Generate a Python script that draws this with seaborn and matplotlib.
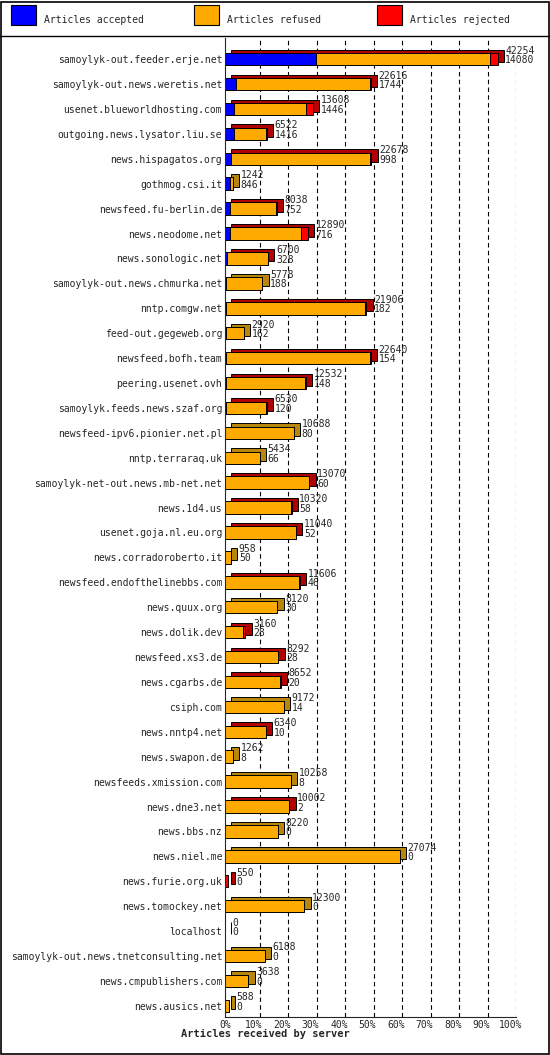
import matplotlib
matplotlib.use("Agg")
import matplotlib.pyplot as plt
import seaborn as sns
import numpy as np
from matplotlib.patches import Rectangle
from matplotlib.lines import Line2D

servers = ["samoylyk-out.feeder.erje.net","samoylyk-out.news.weretis.net","usenet.blueworldhosting.com",
"outgoing.news.lysator.liu.se","news.hispagatos.org","gothmog.csi.it","newsfeed.fu-berlin.de","news.neodome.net",
"news.sonologic.net","samoylyk-out.news.chmurka.net","nntp.comgw.net","feed-out.gegeweb.org","newsfeed.bofh.team",
"peering.usenet.ovh","samoylyk.feeds.news.szaf.org","newsfeed-ipv6.pionier.net.pl","nntp.terraraq.uk",
"samoylyk-net-out.news.mb-net.net","news.1d4.us","usenet.goja.nl.eu.org","news.corradoroberto.it",
"newsfeed.endofthelinebbs.com","news.quux.org","news.dolik.dev","newsfeed.xs3.de","news.cgarbs.de","csiph.com",
"news.nntp4.net","news.swapon.de","newsfeeds.xmission.com","news.dne3.net","news.bbs.nz","news.niel.me",
"news.furie.org.uk","news.tomockey.net","localhost","samoylyk-out.news.tnetconsulting.net","news.cmpublishers.com",
"news.ausics.net"]
offered = [42254,22616,13608,6522,22678,1242,8038,12890,6700,5778,21906,2920,22640,12532,6530,10688,5434,13070,
10320,11040,958,11606,8120,3160,8292,8652,9172,6340,1262,10258,10002,8220,27074,550,12300,0,6188,3638,588]
accepted = [14080,1744,1446,1416,998,846,752,716,328,188,182,162,154,148,120,80,66,60,58,52,50,46,30,28,28,20,14,
10,8,8,2,0,0,0,0,0,0,0,0]
rejected = [1100,150,1000,100,200,0,100,1100,50,0,150,0,150,100,100,0,0,100,100,100,0,100,0,400,50,50,0,50,0,0,
100,0,0,550,0,0,0,0,0]
legend_labels = ["Articles accepted","Articles refused","Articles rejected"]
xlabel = "Articles received by server"
pct_ticks = [0,10,20,30,40,50,60,70,80,90,100]

sns.set_style("white")
plt.rcParams['font.family'] = ['DejaVu Sans Mono']
plt.rcParams['font.size'] = 7

off = np.array(offered, float); acc = np.array(accepted, float); rej = np.array(rejected, float)
ref = np.clip(off - acc - rej, 0, None)
xmax = off.max() * 272 / 260
y = np.arange(len(servers))

fig = plt.figure(figsize=(5.5, 10.55), dpi=100)
ax = fig.add_axes([0.409, 0.036, 0.53, 0.928])
dx = xmax * 0.022
h = 0.5
last_col = []
for a, r, j in zip(acc, ref, rej):
    last_col.append("#b00000" if j > 0 else ("#b8860b" if r > 0 else "#0000b0"))
ax.barh(y - 0.13, off, left=dx, height=h, color=last_col, edgecolor="black", linewidth=0.7)
ax.barh(y, acc, height=h, color="#0000ff", edgecolor="black", linewidth=0.7)
ax.barh(y, ref, left=acc, height=h, color="#ffaa00", edgecolor="black", linewidth=0.7)
ax.barh(y, rej, left=acc + ref, height=h, color="#ff0000", edgecolor="black", linewidth=0.7)
for yi, o, a in zip(y, off, acc):
    ax.text(o + dx + xmax * 0.005, yi - 0.15, f"{int(o)}\n{int(a)}", va="center", ha="left",
            fontsize=7, linespacing=0.95)
for t in pct_ticks[1:]:
    ax.axvline(t / 100 * xmax + dx, color="black", ls=(0, (4, 3)), lw=0.8, zorder=0)
ax.set_xlim(0, xmax + dx)
ax.set_ylim(len(servers) - 0.55, -0.85)
ax.set_yticks(y)
ax.set_yticklabels(servers)
ax.set_xticks([t / 100 * xmax for t in pct_ticks])
ax.set_xticklabels([f"{t}%" for t in pct_ticks])
ax.tick_params(length=0, pad=2)
ax.set_xlabel(xlabel, fontweight="bold", fontsize=7.5, loc="left", labelpad=1)
ax.xaxis.set_label_coords(-0.15, -0.012)
for s in ["top", "right"]:
    ax.spines[s].set_visible(False)
ax.spines["left"].set_linewidth(0.8)
ax.spines["bottom"].set_linewidth(0.8)

fig.add_artist(Rectangle((0.002, 0.001), 0.996, 0.997, transform=fig.transFigure, fill=False, lw=1.2, ec="black"))
fig.add_artist(Line2D([0, 1], [0.966, 0.966], transform=fig.transFigure, color="black", lw=1))
cols = ["#0000ff", "#ffaa00", "#ff0000"]
xs = [0.02, 0.353, 0.686]
for xx, c, lab in zip(xs, cols, legend_labels):
    fig.add_artist(Rectangle((xx, 0.976), 0.045, 0.019, transform=fig.transFigure, fc=c, ec="black", lw=0.8))
    fig.text(xx + 0.06, 0.9815, lab, va="center", fontsize=7)

fig.savefig("out.png", dpi=100)
